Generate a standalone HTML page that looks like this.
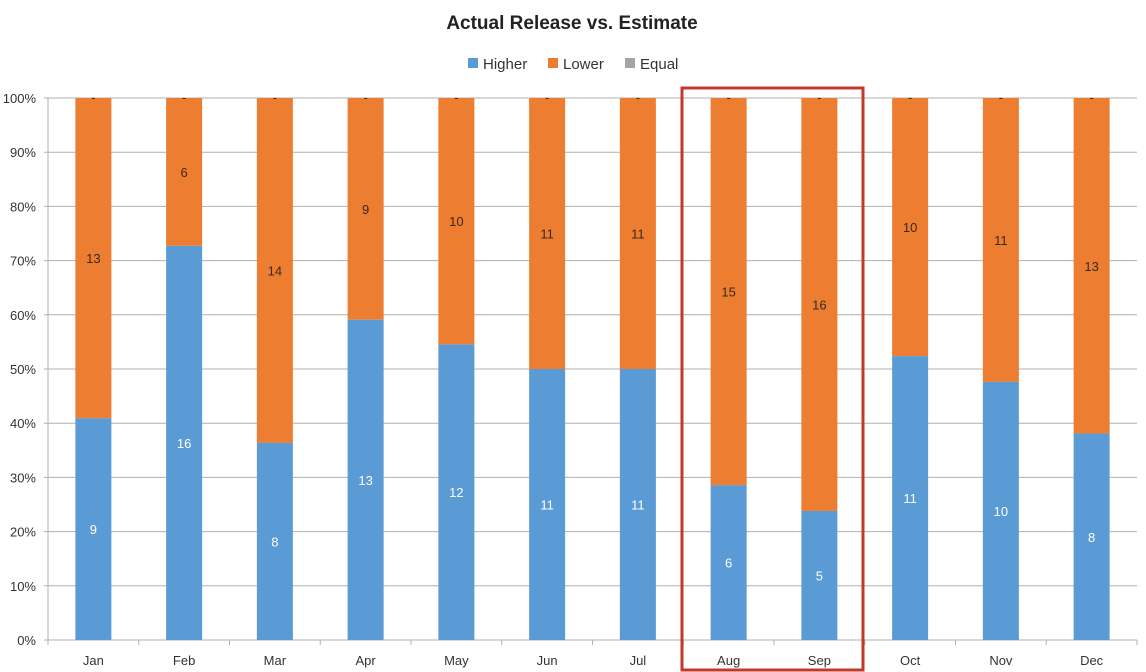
<!DOCTYPE html>
<html><head><meta charset="utf-8"><style>
body{margin:0;background:#fff;}
svg{display:block;font-family:"Liberation Sans","DejaVu Sans",sans-serif;}
</style></head><body>
<svg width="1146" height="672" viewBox="0 0 1146 672" xmlns="http://www.w3.org/2000/svg">
<text x="572" y="29" text-anchor="middle" font-size="19" font-weight="bold" fill="#222">Actual Release vs. Estimate</text>
<rect x="468" y="58" width="10" height="10" fill="#5b9bd5"/><text x="483" y="69" font-size="15" fill="#333">Higher</text>
<rect x="548" y="58" width="10" height="10" fill="#ed7d31"/><text x="563" y="69" font-size="15" fill="#333">Lower</text>
<rect x="625" y="58" width="10" height="10" fill="#a5a5a5"/><text x="640" y="69" font-size="15" fill="#333">Equal</text>
<g id="grid" stroke="#b0b0b0" stroke-width="1"></g>
<g id="bars"></g>
<rect x="682" y="88" width="181" height="582" fill="none" stroke="#c0392b" stroke-width="3"/>
<script>
(function(){
var T=98,B=640,L=48,R=1137,w=(R-L)/12,ns="http://www.w3.org/2000/svg";
var g=document.getElementById('grid'),b=document.getElementById('bars');
function el(t,a,p,txt){var e=document.createElementNS(ns,t);for(var k in a)e.setAttribute(k,a[k]);if(txt!=null)e.textContent=txt;p.appendChild(e);return e;}
for(var i=0;i<=10;i++){var y=B-(B-T)*i/10;el('line',{x1:L-4,x2:R,y1:y,y2:y},g);
el('text',{x:36,y:y+5,'text-anchor':'end','font-size':13,fill:'#333',stroke:'none'},g,(i*10)+'%');}
el('line',{x1:L,x2:L,y1:T,y2:B},g);
for(var i=0;i<=12;i++){var x=L+w*i;el('line',{x1:x,x2:x,y1:B,y2:B+5},g);}
var m=['Jan','Feb','Mar','Apr','May','Jun','Jul','Aug','Sep','Oct','Nov','Dec'];
var d=[[9,13],[16,6],[8,14],[13,9],[12,10],[11,11],[11,11],[6,15],[5,16],[11,10],[10,11],[8,13]];
for(var i=0;i<12;i++){var c=L+w*(i+0.5),h=d[i][0],lo=d[i][1],t=h+lo,H=B-T;
var yb=B-H*h/t;
el('rect',{x:c-18,y:T,width:36,height:yb-T,fill:'#ed7d31'},b);
el('rect',{x:c-18,y:yb,width:36,height:B-yb,fill:'#5b9bd5'},b);
el('text',{x:c,y:(yb+B)/2+5,'text-anchor':'middle','font-size':13,fill:'#fff'},b,h);
el('text',{x:c,y:(yb+T)/2+5,'text-anchor':'middle','font-size':13,fill:'#3a2a1a'},b,lo);
el('text',{x:c,y:T+4,'text-anchor':'middle','font-size':13,fill:'#3a2a1a'},b,'-');
el('text',{x:c,y:665,'text-anchor':'middle','font-size':13,fill:'#333'},b,m[i]);}
})();
</script>
</svg>
</body></html>
